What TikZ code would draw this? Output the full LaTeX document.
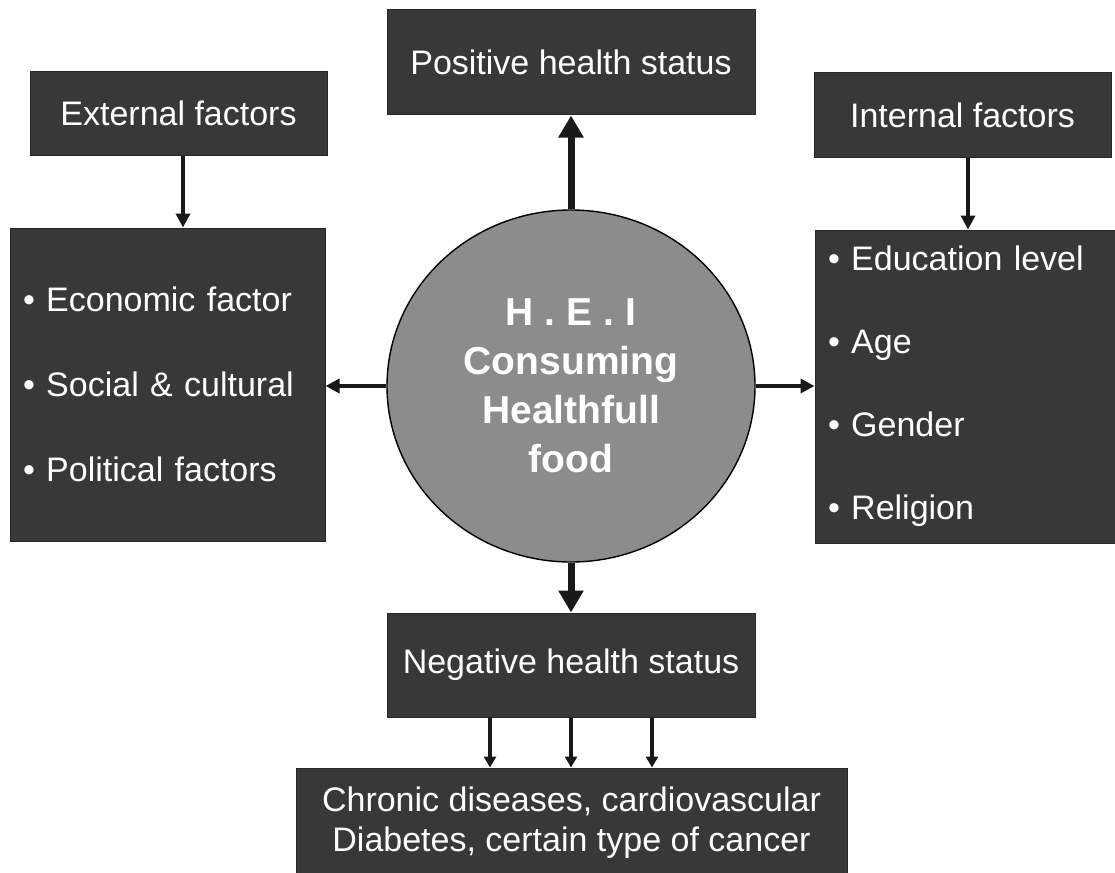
\documentclass[tikz,border=0pt]{standalone}
\usepackage{fontspec}
\setmainfont{Liberation Sans}
\usetikzlibrary{arrows.meta,positioning,calc,shapes.geometric}
\definecolor{boxgray}{RGB}{56,56,56}
\definecolor{discgray}{RGB}{140,140,140}
\tikzset{
  % dark text boxes
  darkbox/.style={draw=black!85, line width=1pt, fill=boxgray, text=white,
    inner sep=0pt, font=\fontsize{34}{40}\selectfont, align=center},
  listbox/.style={darkbox, align=left, inner xsep=13pt, anchor=center},
  % the central disc
  disc/.style={ellipse, draw=black, line width=1.4pt, fill=discgray, text=white,
    inner sep=0pt, font=\bfseries\fontsize{39}{49}\selectfont, align=center},
  % connectors
  fatarr/.style={-{Triangle[length=22pt,width=24pt]}, line width=7pt, black!90},
  thinarr/.style={-{Triangle[length=14pt,width=14pt]}, line width=4pt, black!90},
}
\begin{document}
\begin{tikzpicture}[x=1pt, y=-1pt]
    \useasboundingbox (0,0) rectangle (1115,872);
    % centre
    \node[disc, minimum width=368pt, minimum height=352pt] (hei) at (571,386)
      {H . E . I\\Consuming\\Healthfull\\food};
    % top and bottom outcome boxes
    \node[darkbox, minimum width=368pt, minimum height=105pt] (pos) at (571,62.5)
      {Positive health status};
    \node[darkbox, minimum width=368pt, minimum height=104pt] (neg) at (571,665)
      {Negative health status};
    \node[darkbox, minimum width=551pt, minimum height=110pt] (chronic) at (571.5,823)
      {Chronic diseases, cardiovascular\\Diabetes, certain type of cancer};
    % external side
    \node[darkbox, minimum width=297pt, minimum height=83pt] (ext) at (178.5,113.5)
      {External factors};
    \node[listbox, text width=289pt, minimum height=313pt, font=\fontsize{34}{85}\selectfont]
      (extlist) at (167.5,384.5)
      {\textbullet\ Economic factor\\\textbullet\ Social \& cultural\\\textbullet\ Political factors};
    % internal side
    \node[darkbox, minimum width=297pt, minimum height=84pt] (int) at (962.5,115)
      {Internal factors};
    \node[listbox, text width=274pt, minimum height=313pt, font=\fontsize{34}{83}\selectfont]
      (intlist) at (965,386.5)
      {\textbullet\ Education level\\\textbullet\ Age\\\textbullet\ Gender\\\textbullet\ Religion};
    % connectors
    \draw[fatarr] (hei.north) -- (pos.south);
    \draw[fatarr] (hei.south) -- (neg.north);
    \draw[thinarr] (hei.west) -- (hei.west -| extlist.east);
    \draw[thinarr] (hei.east) -- (hei.east -| intlist.west);
    \draw[thinarr] ([xshift=4.5pt]ext.south) -- ([xshift=4.5pt]ext.south |- extlist.north);
    \draw[thinarr] ([xshift=5.5pt]int.south) -- ([xshift=5.5pt]int.south |- intlist.north);
    \foreach \dx in {-81,0,81}
      \draw[thinarr, line width=3.5pt, -{Triangle[length=11pt,width=12pt]}]
        ([xshift=\dx pt]neg.south) -- ([xshift=\dx pt]neg.south |- chronic.north);
\end{tikzpicture}
\end{document}
